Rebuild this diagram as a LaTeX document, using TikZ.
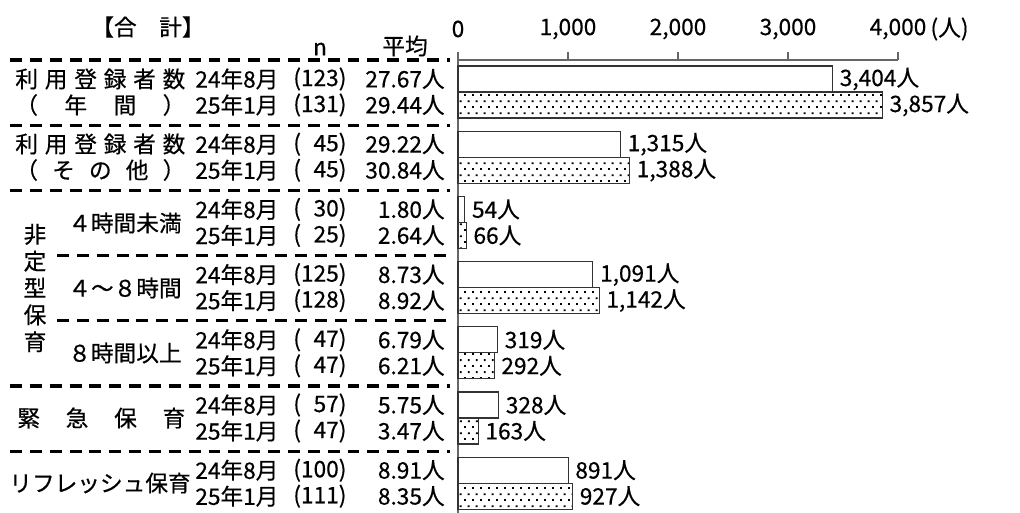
\documentclass[tikz,border=0pt]{standalone}
\usepackage{fontspec}
\setmainfont{Noto Sans CJK JP}[FakeBold=0.5]
\usetikzlibrary{patterns}

% staggered dots for the second bar of each pair
\pgfdeclarepatternformonly{stipple}{\pgfpointorigin}{\pgfqpoint{4.4pt}{7pt}}{\pgfqpoint{4.4pt}{7pt}}{%
  \pgfpathrectangle{\pgfqpoint{0pt}{0pt}}{\pgfqpoint{1.1pt}{1.1pt}}%
  \pgfpathrectangle{\pgfqpoint{2.2pt}{3.5pt}}{\pgfqpoint{1.1pt}{1.1pt}}%
  \pgfusepath{fill}}

\newcommand{\spreadbox}[2]{\makebox[#1][s]{#2}}

\begin{document}
\begin{tikzpicture}[x=0.02cm,y=-0.02cm,
    txt/.style={inner sep=0pt,font=\fontsize{12.9pt}{15pt}\selectfont},
    sepline/.style={line width=1.8pt,dash pattern=on 6.8pt off 4.5pt},
    axisline/.style={draw=black!60,line width=0.6pt},
    bar/.style={draw=black!80,line width=0.6pt,fill=white},
    dotbar/.style={draw=black!80,line width=0.6pt,pattern=stipple}]

\useasboundingbox (0,0) rectangle (1020,513);

% axis
\draw[axisline] (458,60) -- (898,60);
\draw[axisline] (458,52) -- (458,513);
\foreach \v/\t in {0/0,1/{1,000},2/{2,000},3/{3,000},4/{4,000}}{
    \draw[axisline] (458+110*\v,52) -- (458+110*\v,60);
    \node[txt] (tick\v) at (458+110*\v,29) {\t};
}
\node[txt,anchor=west] (unit) at ([xshift=2pt]tick4.east) {(人)};

% header
\node[txt] (title) at (148,27) {【合　計】};
\node[txt] (hdn) at (320,49) {n};
\node[txt] (hdavg) at (405,46) {平均};

% separators
\foreach \k/\xs in {0/10,1/10,2/10,3/57,4/57,5/10,6/10}
    \draw[sepline] (\xs,60+65.2*\k) -- (450,60+65.2*\k);

% rows: n and average
\foreach \k/\na/\nb/\aa/\ab in {0/123/131/27.67/29.44,
        1/{\phantom{0}45}/{\phantom{0}45}/29.22/30.84,
        2/{\phantom{0}30}/{\phantom{0}25}/1.80/2.64,
        3/125/128/8.73/8.92,
        4/{\phantom{0}47}/{\phantom{0}47}/6.79/6.21,
        5/{\phantom{0}57}/{\phantom{0}47}/5.75/3.47,
        6/100/111/8.91/8.35}{
    \pgfmathsetmacro{\L}{60+65.2*\k}
    \node[txt,anchor=west] (dateA\k) at (195,\L+19) {24年8月};
    \node[txt,anchor=west] (dateB\k) at (195,\L+45) {25年1月};
    \node[txt,anchor=west] (nA\k) at (293,\L+19) {(\na)};
    \node[txt,anchor=west] (nB\k) at (293,\L+45) {(\nb)};
    \node[txt,anchor=east] (avgA\k) at (445,\L+19) {\aa 人};
    \node[txt,anchor=east] (avgB\k) at (445,\L+45) {\ab 人};
}

% bars
\foreach \k/\va/\vb/\la/\lb/\sc in {0/3404/3857/{3,404}/{3,857}/0.110,
        1/1315/1388/{1,315}/{1,388}/0.1235,
        2/54/66/54/66/0.1235,
        3/1091/1142/{1,091}/{1,142}/0.1235,
        4/319/292/319/292/0.1235,
        5/328/163/328/163/0.1235,
        6/891/927/891/927/0.1235}{
    \pgfmathsetmacro{\L}{60+65.2*\k}
    \draw[bar] (458,\L+6) rectangle (458+\va*\sc,\L+32);
    \draw[dotbar] (458,\L+32) rectangle (458+\vb*\sc,\L+58);
    \node[txt,anchor=west] (lblA\k) at (458+\va*\sc+7,\L+19) {\la 人};
    \node[txt,anchor=west] (lblB\k) at (458+\vb*\sc+7,\L+45) {\lb 人};
}

% category labels
\node[txt,anchor=west] (catA0) at (15,79) {\spreadbox{3.4cm}{利\hfil 用\hfil 登\hfil 録\hfil 者\hfil 数}};
\node[txt,anchor=west] (catB0) at (15,105) {\spreadbox{3.4cm}{（\hfil 年\hfil 間\hfil ）}};
\node[txt,anchor=west] (catA1) at (15,144) {\spreadbox{3.4cm}{利\hfil 用\hfil 登\hfil 録\hfil 者\hfil 数}};
\node[txt,anchor=west] (catB1) at (15,170) {\spreadbox{3.4cm}{（\hfil そ\hfil の\hfil 他\hfil ）}};
\node[txt,align=center,font=\fontsize{12.9pt}{15.3pt}\selectfont] (hitei) at (35,288) {非\\定\\型\\保\\育};
\node[txt] (sub2) at (125,223) {４時間未満};
\node[txt] (sub3) at (125,288) {４～８時間};
\node[txt] (sub4) at (125,353) {８時間以上};
\node[txt,anchor=west] (cat5) at (17,418) {\spreadbox{3.36cm}{緊\hfil 急\hfil 保\hfil 育}};
\node[txt] (cat6) at (100,483) {リフレッシュ保育};
\end{tikzpicture}
\end{document}
